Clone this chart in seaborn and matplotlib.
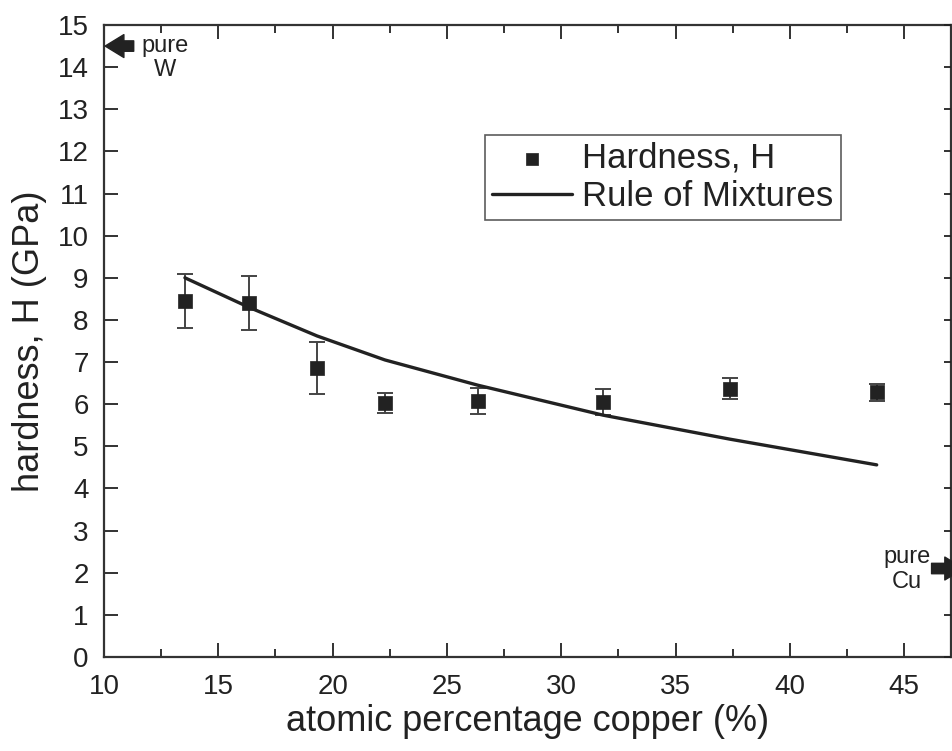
import numpy as np
import pandas as pd
import matplotlib
matplotlib.use("Agg")
import matplotlib.pyplot as plt
import seaborn as sns

# values
cu_pct = [13.54, 16.34, 19.32, 22.29, 26.36, 31.83, 37.38, 43.80]
hardness = [8.45, 8.40, 6.86, 6.03, 6.07, 6.06, 6.37, 6.28]
hardness_err = [0.65, 0.65, 0.61, 0.24, 0.31, 0.31, 0.24, 0.20]
rule_of_mixtures = [9.00, 8.30, 7.62, 7.05, 6.45, 5.74, 5.17, 4.56]

pure_w = 14.5
pure_cu = 2.1

df = pd.DataFrame({"cu": cu_pct, "H": hardness, "err": hardness_err, "rom": rule_of_mixtures})

sns.set_theme(style="ticks")
plt.rcParams["font.family"] = ["Liberation Sans", "DejaVu Sans"]

ink = "#222222"
fig = plt.figure(figsize=(9.52, 7.51), dpi=100)
ax = fig.add_axes([104 / 952, 1 - 657 / 751, 847 / 952, 632 / 751])

ax.errorbar(df["cu"], df["H"], yerr=df["err"], fmt="none", ecolor="#444444",
            elinewidth=1.4, capsize=6, capthick=1.4, zorder=2)
sns.lineplot(data=df, x="cu", y="rom", ax=ax, color=ink, lw=2.4,
             label="Rule of Mixtures", zorder=3)
sns.scatterplot(data=df, x="cu", y="H", ax=ax, marker="s", s=115, color=ink,
                edgecolor=ink, linewidth=0.5, label="Hardness, H", zorder=4)

ax.set_xlim(10, 47.05)
ax.set_ylim(0, 15)
ax.set_xticks(np.arange(10, 46, 5))
ax.set_xticks(np.arange(12.5, 47, 5), minor=True)
ax.set_yticks(np.arange(0, 16, 1))

ax.tick_params(which="both", direction="in", top=True, right=True,
               colors=ink, labelsize=20, width=1.3)
ax.tick_params(which="major", length=10)
ax.tick_params(axis="x", which="major", pad=12)
ax.tick_params(axis="y", which="major", pad=11, right=False)
ax.tick_params(which="minor", length=6)
for sp in ax.spines.values():
    sp.set_color("#333333")
    sp.set_linewidth(1.6)

ax.set_xlabel("atomic percentage copper (%)", fontsize=26, color=ink, labelpad=3)
ax.set_ylabel("hardness, H (GPa)", fontsize=26, color=ink, labelpad=8)

# right-side short ticks at integers
ax2 = ax.twinx()
ax2.set_ylim(0, 15)
ax2.set_yticks(np.arange(0, 16, 1))
ax2.tick_params(direction="in", length=5, labelright=False, colors=ink, width=1.3)
ax2.grid(False)
for sp in ax2.spines.values():
    sp.set_visible(False)

handles, labels = ax.get_legend_handles_labels()
order = [labels.index("Hardness, H"), labels.index("Rule of Mixtures")]
leg = ax.legend([handles[i] for i in order], [labels[i] for i in order],
                loc="upper left", bbox_to_anchor=(0.45, 0.826), fontsize=25,
                frameon=True, fancybox=False, edgecolor="#333333",
                handlelength=2.3, handletextpad=0.3, labelspacing=0.15,
                borderpad=0.2, borderaxespad=0, markerscale=0.8)
leg.get_frame().set_linewidth(1.2)
for t in leg.get_texts():
    t.set_color(ink)

arrow_style = dict(arrowstyle="simple,head_length=0.9,head_width=1.1,tail_width=0.5",
                   mutation_scale=15, color=ink, shrinkA=0, shrinkB=0)
ax.annotate("", xy=(10.05, pure_w), xytext=(11.3, pure_w), arrowprops=arrow_style,
            annotation_clip=False)
ax.text(12.67, 14.22, "pure\nW", ha="center", va="center", fontsize=17,
        color=ink, linespacing=1.15)
ax.annotate("", xy=(47.6, pure_cu), xytext=(46.2, pure_cu), arrowprops=arrow_style,
            annotation_clip=False)
ax.text(45.13, 2.08, "pure\nCu", ha="center", va="center", fontsize=17,
        color=ink, linespacing=1.15)

fig.savefig("out.png", dpi=100)
